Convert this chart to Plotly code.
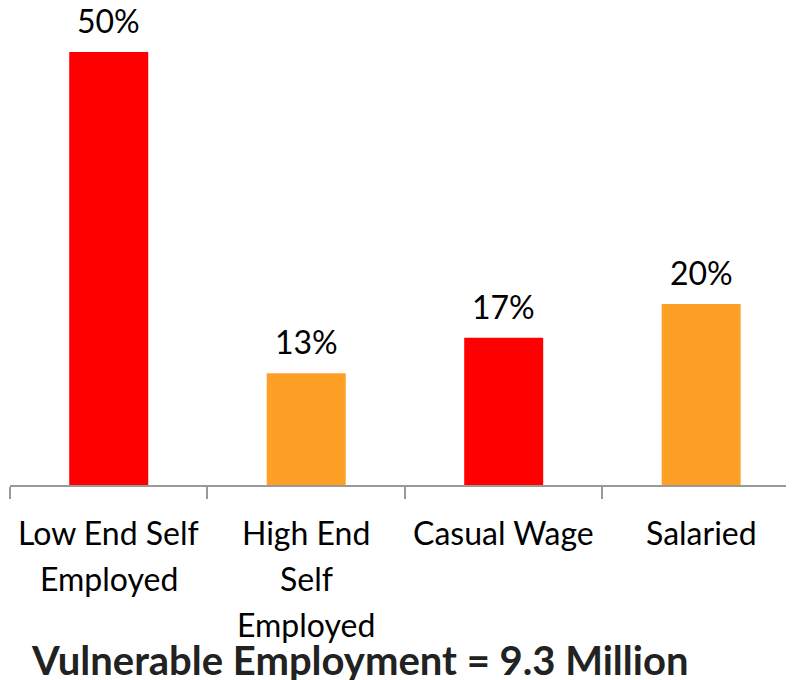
import plotly.graph_objects as go

categories = ["Low End Self<br>Employed", "High End<br>Self<br>Employed", "Casual Wage", "Salaried"]
values = [50.0, 12.9, 17.0, 20.9]
labels = ["50%", "13%", "17%", "20%"]
colors = ["#FF0000", "#FFA026", "#FF0000", "#FFA026"]
title_text = "Vulnerable Employment = 9.3 Million"

FONT = "Lato, 'Open Sans', sans-serif"

fig = go.Figure()
fig.add_trace(go.Bar(
    x=categories, y=values, marker=dict(color=colors, line=dict(width=0)),
    width=0.4, cliponaxis=False, hoverinfo="skip",
))

for c, v, t in zip(categories, values, labels):
    fig.add_annotation(x=c, y=v, text=t, showarrow=False, yanchor="bottom",
                       yshift=10, font=dict(family=FONT, size=32, color="#000000"))

# category labels, one line each for controlled line spacing
for c in categories:
    for i, line in enumerate(c.split("<br>")):
        fig.add_annotation(x=c, y=0, yref="paper", text=line, showarrow=False,
                           yanchor="middle", yshift=-(47 + 46 * i),
                           font=dict(family=FONT, size=32, color="#000000"))

fig.add_annotation(x=0.4464, y=0.0, xref="paper", yref="paper", yanchor="middle",
                   xanchor="center", text="<b>" + title_text + "</b>", showarrow=False,
                   yshift=-175, font=dict(family=FONT, size=40, color="#222222"))

# page body has an 8px margin; size the figure so it fills the 794x680 view
fig.update_layout(
    width=786, height=672,
    margin=dict(l=2, r=0, t=44, b=195),
    paper_bgcolor="white", plot_bgcolor="white",
    showlegend=False,
    bargap=0.6,
    xaxis=dict(type="category", tickson="boundaries", ticks="outside", ticklen=12,
               tickwidth=2, tickcolor="#999999", showline=True, linecolor="#999999",
               linewidth=2, showgrid=False, range=[-0.5, 3.47], automargin=False,
               showticklabels=False),
    yaxis=dict(visible=False, range=[0, 50], fixedrange=True, automargin=False),
)

fig.write_html("out.html")
